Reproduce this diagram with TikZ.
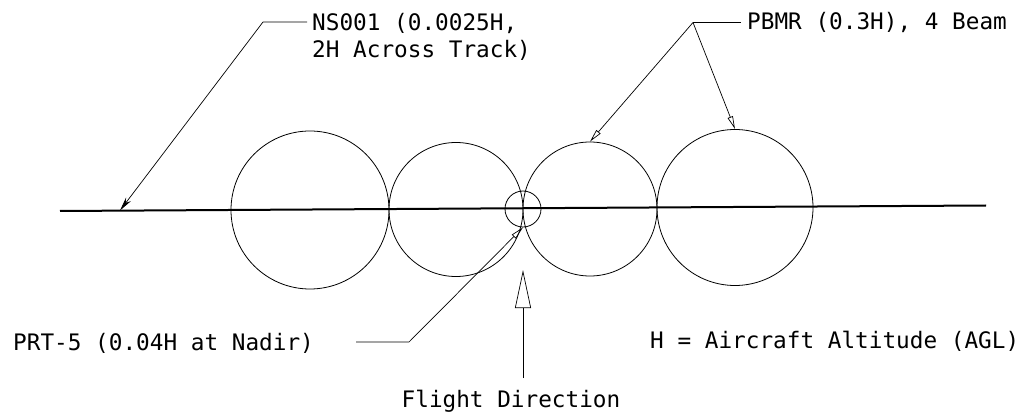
\documentclass[tikz,border=0pt]{standalone}
\usepackage{fontspec}
\newfontfamily\cad{DejaVu Sans Mono}
\usetikzlibrary{arrows.meta}
\begin{document}
\begin{tikzpicture}[x=1pt,y=-1pt,
  lbl/.style={font=\cad\fontsize{22.7}{27}\selectfont, inner sep=0pt, text=black},
  beam/.style={draw, circle, inner sep=0pt, line width=0.8pt},
  track/.style={line width=2pt},
  leader/.style={line width=0.7pt},
  tipopen/.style={-{Triangle[open,length=13pt,width=5.5pt,line width=0.7pt]}},
  tipdark/.style={-{Stealth[length=14pt,width=6pt]}},
  bigtip/.style={-{Triangle[open,length=38pt,width=16pt,line width=0.7pt]}}]
\useasboundingbox (0,0) rectangle (1026,414);

% track
\coordinate (tl) at (60,211);
\coordinate (tr) at (986,205.5);
\draw[track] (tl) -- (tr);

% footprints
\node[beam, minimum size=158pt] (c1) at (310,210) {};
\node[beam, minimum size=134pt] (c2) at (456,209.5) {};
\node[beam, minimum size=36pt]  (cs) at (523,209) {};
\node[beam, minimum size=134pt] (c3) at (590,209) {};
\node[beam, minimum size=156pt] (c4) at (735,207.5) {};

% labels
\node[lbl, anchor=north west, align=left] (ns) at (312,13) {NS001 (0.0025H,\\2H Across Track)};
\node[lbl, anchor=base west] (pb) at (747,30) {PBMR (0.3H), 4 Beam};
\node[lbl, anchor=base west] (prt) at (13,350) {PRT-5 (0.04H at Nadir)};
\node[lbl, anchor=base west] (hh) at (650,348) {H = Aircraft Altitude (AGL)};
\node[lbl, anchor=base] (fd) at (511,407) {Flight Direction};

% NS001 leader
\coordinate (nsk) at (307,22);
\coordinate (nsj) at (263,22);
\coordinate (nsTip) at (120,210.5);
\draw[leader, tipdark] (nsk) -- (nsj) -- (nsTip);

% PBMR leaders
\coordinate (pbk) at (741,22.5);
\coordinate (pbj) at (693,22.5);
\draw[leader] (pbk) -- (pbj);
\draw[leader, tipopen] (pbj) -- (c3.north);
\draw[leader, tipopen] (pbj) -- (c4.north);

% PRT-5 leader
\coordinate (prk) at (356,342);
\coordinate (prj) at (409,342);
\draw[leader, tipopen] (prk) -- (prj) -- (cs.south);

% flight direction arrow
\coordinate (fb) at (523,378);
\coordinate (ft) at (523,270);
\draw[leader, bigtip] (fb) -- (ft);
\end{tikzpicture}
\end{document}
